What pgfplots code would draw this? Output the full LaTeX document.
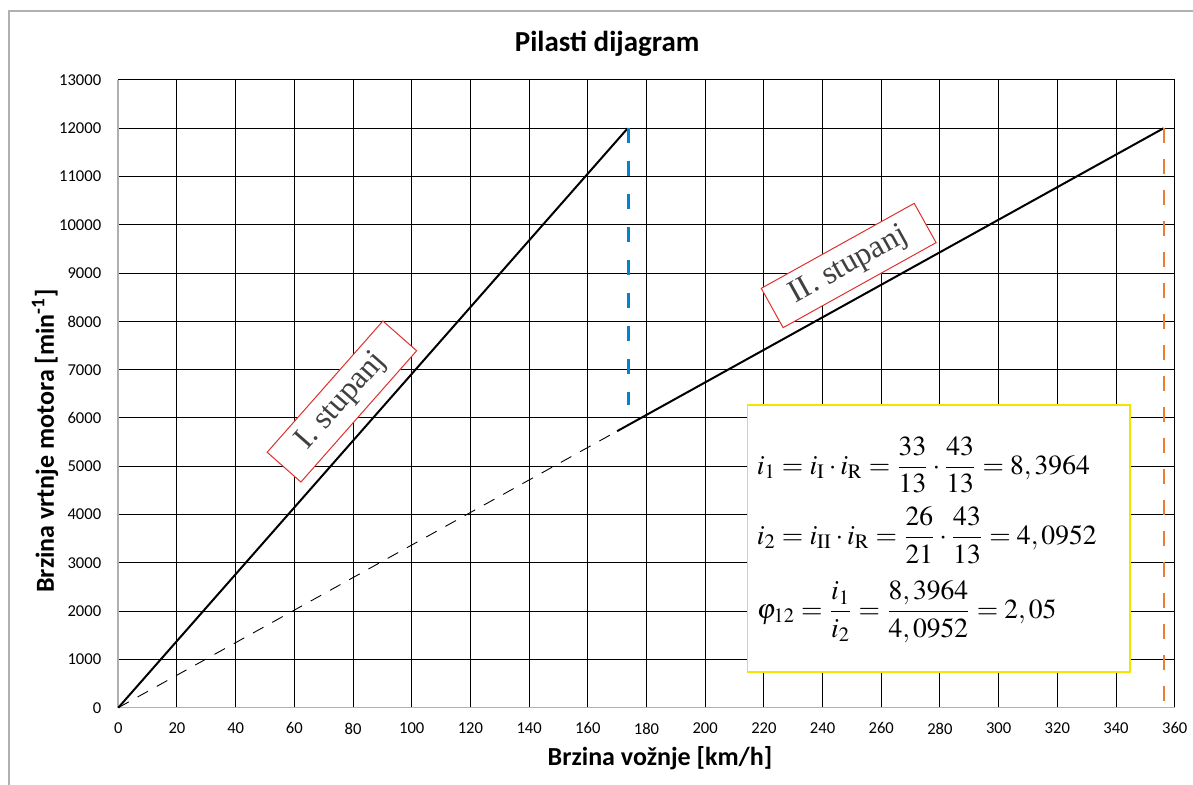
\documentclass[border=0pt]{standalone}
\usepackage{mathptmx}
\usepackage[no-math]{fontspec}
\setmainfont{Carlito}
\newfontfamily\timesfont{Liberation Serif}
\usepackage{pgfplots}
\pgfplotsset{compat=1.18}
\usetikzlibrary{calc}

\definecolor{gearblue}{RGB}{0,132,209}
\definecolor{gearorange}{RGB}{237,125,49}
\definecolor{boxred}{RGB}{224,48,46}
\definecolor{boxyellow}{RGB}{245,228,0}
\definecolor{framegray}{RGB}{176,176,176}

\begin{document}
\begin{tikzpicture}
\begin{axis}[
  scale only axis,
  width=528.2pt, height=313.85pt,
  xmin=0, xmax=360, ymin=0, ymax=13000,
  xtick distance=20, ytick distance=1000,
  scaled y ticks=false,
  axis x line=bottom, axis y line=left,
  axis line style={framegray, line width=0.8pt, -},
  grid=major,
  major grid style={black, line width=0.5pt},
  major tick length=0pt,
  /pgf/number format/assume math mode=true,
  /pgf/number format/1000 sep={},
  ticklabel style={font=\fontsize{8.3}{10}\selectfont},
  xticklabel style={yshift=-4pt},
  yticklabel style={xshift=-5pt},
  clip=false,
]
% thin dashed continuation of II. stupanj
\addplot[black, line width=0.45pt, dash pattern=on 6pt off 5pt] coordinates {(0,0) (170,5727)};
% I. stupanj
\addplot[black, line width=1pt] coordinates {(0,0) (173.6,12000)};
% II. stupanj
\addplot[black, line width=1pt] coordinates {(170,5727) (356.2,12000)};
% shift points
\addplot[gearblue, line width=1.5pt, dash pattern=on 7.5pt off 9pt] coordinates {(173.9,12000) (173.9,6270)};
\addplot[gearorange, line width=1pt, dash pattern=on 7.5pt off 8pt] coordinates {(356.2,12000) (356.2,0)};

% formula box
\draw[boxyellow, line width=0.8pt, fill=white] (axis cs:214.4,739) rectangle (axis cs:344.8,6266);
\node[anchor=west, inner sep=0pt, font=\fontsize{13.8}{16}\selectfont] at (axis cs:217.5,5024)
  {$\displaystyle i_1=i_{\mathrm{I}}\cdot i_{\mathrm{R}}=\frac{33}{13}\cdot\frac{43}{13}=8,3964$};
\node[anchor=west, inner sep=0pt, font=\fontsize{13.8}{16}\selectfont] at (axis cs:217.5,3575)
  {$\displaystyle i_2=i_{\mathrm{II}}\cdot i_{\mathrm{R}}=\frac{26}{21}\cdot\frac{43}{13}=4,0952$};
\node[anchor=west, inner sep=0pt, font=\fontsize{13.8}{16}\selectfont] at (axis cs:217.5,1981)
  {$\displaystyle \varphi_{12}=\frac{i_1}{i_2}=\frac{8,3964}{4,0952}=2,05$};

% gear labels
\node[draw=boxred, line width=0.5pt, fill=white, rotate=48.6, minimum width=87.5pt, minimum height=22.5pt,
  inner sep=0pt, text=black!75, font=\timesfont\fontsize{16}{18}\selectfont] at (axis cs:76.2,6341) {I. stupanj};
\node[draw=boxred, line width=0.5pt, fill=white, rotate=29.06, minimum width=87.5pt, minimum height=22.5pt,
  inner sep=0pt, text=black!75, font=\timesfont\fontsize{16}{18}\selectfont] at (axis cs:248.9,9158) {II. stupanj};

% titles
\node[font=\bfseries\fontsize{14.5}{17}\selectfont] at (axis cs:166.6,13746) {Pilasti dijagram};
\node[font=\bfseries\fontsize{13}{15}\selectfont] at (axis cs:184.6,-1042) {Brzina vožnje [km/h]};
\node[font=\bfseries\fontsize{13}{15}\selectfont, rotate=90] at (axis cs:-24.98,5523) {Brzina vrtnje motora [min\textsuperscript{-1}]};

% chart frame
\draw[framegray, line width=1pt] (axis cs:-37.25,-1700) -- (axis cs:-37.25,14429) -- (axis cs:370,14429);
\end{axis}
\pgfresetboundingbox
\useasboundingbox ($(current axis.south west)+(-59.15pt,-38.65pt)$) rectangle ($(current axis.north east)+(9.15pt,40pt)$);
\end{tikzpicture}
\end{document}
